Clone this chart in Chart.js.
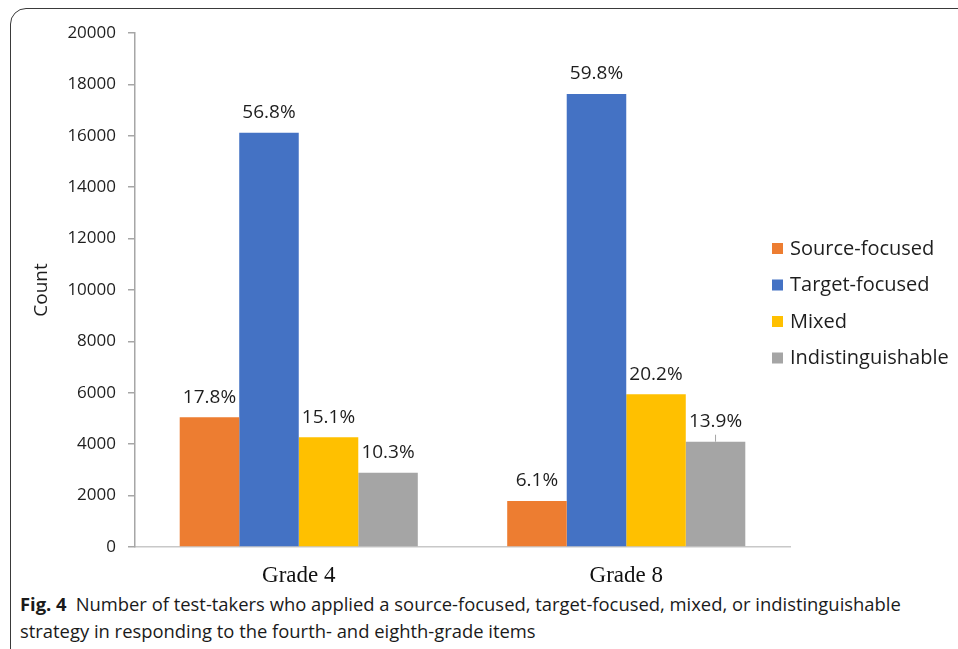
<!DOCTYPE html>
<html>
<head>
<meta charset="utf-8">
<script src="https://cdn.jsdelivr.net/npm/chart.js@4/dist/chart.umd.min.js"></script>
<style>
  html, body { margin: 0; padding: 0; background: #fff; width: 958px; height: 649px; overflow: hidden; }
  #frame { position: absolute; left: 10px; top: 8px; width: 980px; height: 700px;
           border: 1.5px solid #3a3a3a; border-top-left-radius: 16px; box-sizing: border-box; }
  #c { position: absolute; left: 0; top: 0; }
  #caption { position: absolute; left: 20px; top: 590px; width: 935px;
             font-family: "Open Sans", sans-serif; font-size: 18.4px; line-height: 27px; color: #1a1a1a; }
  #caption b { font-weight: 700; margin-right: 9px; }
</style>
</head>
<body>
<div id="frame"></div>
<canvas id="c" width="958" height="590"></canvas>
<div id="caption"><b>Fig. 4</b>Number of test-takers who applied a source-focused, target-focused, mixed, or indistinguishable<br>strategy in responding to the fourth- and eighth-grade items</div>
<script>
const categories = ["Grade 4", "Grade 8"];
const seriesNames = ["Source-focused", "Target-focused", "Mixed", "Indistinguishable"];
const sourceFocused = [5047, 1790];
const targetFocused = [16121, 17626];
const mixed = [4268, 5942];
const indistinguishable = [2891, 4097];
const sourceLabels = ["17.8%", "6.1%"];
const targetLabels = ["56.8%", "59.8%"];
const mixedLabels = ["15.1%", "20.2%"];
const indistLabels = ["10.3%", "13.9%"];
const yTicks = [0, 2000, 4000, 6000, 8000, 10000, 12000, 14000, 16000, 18000, 20000];
const yTickLabels = ["0", "2000", "4000", "6000", "8000", "10000", "12000", "14000", "16000", "18000", "20000"];
const colors = ["#ED7D31", "#4472C4", "#FFC000", "#A5A5A5"];

const seriesValues = [sourceFocused, targetFocused, mixed, indistinguishable];
const seriesLabels = [sourceLabels, targetLabels, mixedLabels, indistLabels];

const labelPlugin = {
  id: 'barLabels',
  afterDatasetsDraw(chart) {
    const ctx = chart.ctx;
    ctx.save();
    ctx.font = '19px "Open Sans"';
    ctx.fillStyle = '#1e1e1e';
    ctx.textAlign = 'center';
    ctx.textBaseline = 'middle';
    chart.data.datasets.forEach((ds, i) => {
      chart.getDatasetMeta(i).data.forEach((bar, j) => {
        ctx.fillText(seriesLabels[i][j], bar.x, bar.y - 20);
      });
    });
    // leader line for Grade 8 Indistinguishable label
    const b = chart.getDatasetMeta(3).data[1];
    ctx.strokeStyle = '#a6a6a6';
    ctx.lineWidth = 1;
    ctx.beginPath();
    ctx.moveTo(b.x, b.y);
    ctx.lineTo(b.x, b.y - 7);
    ctx.stroke();
    // legend
    ctx.font = '20px "Open Sans"';
    ctx.textAlign = 'left';
    const lx = 772, ly0 = 249, dy = 36.5;
    chart.data.datasets.forEach((ds, i) => {
      const y = ly0 + i * dy;
      ctx.fillStyle = ds.backgroundColor;
      ctx.fillRect(lx, y - 6, 11, 11);
      ctx.fillStyle = '#1e1e1e';
      ctx.fillText(ds.label, lx + 18, y);
    });
    ctx.restore();
  }
};

new Chart(document.getElementById('c'), {
  type: 'bar',
  data: {
    labels: categories,
    datasets: seriesNames.map((n, i) => ({
      label: n,
      data: seriesValues[i],
      backgroundColor: colors[i],
      borderWidth: 0,
      categoryPercentage: 0.727,
      barPercentage: 1.0
    }))
  },
  options: {
    responsive: false,
    animation: false,
    devicePixelRatio: 1,
    layout: { padding: { left: 10, right: 168, top: 33, bottom: 0 } },
    plugins: { legend: { display: false }, tooltip: { enabled: false } },
    scales: {
      x: {
        grid: { display: false },
        border: { display: true, color: '#c8c8c8', width: 1.5 },
        ticks: { color: '#111', font: { family: '"Liberation Serif", "Times New Roman", serif', size: 23 }, padding: 7 },
        afterFit(scale) { scale.height = 43; }
      },
      y: {
        min: 0, max: 20000,
        afterBuildTicks(scale) { scale.ticks = yTicks.map(v => ({ value: v })); },
        grid: { drawOnChartArea: false, drawTicks: true, tickLength: 7, color: '#a6a6a6', lineWidth: 1.5 },
        border: { display: true, color: '#a6a6a6', width: 1.5 },
        ticks: { color: '#1e1e1e', font: { family: '"Open Sans", sans-serif', size: 17 }, padding: 12,
                 callback: (v, i) => yTickLabels[i] },
        title: { display: true, text: 'Count', color: '#1e1e1e', font: { family: '"Open Sans", sans-serif', size: 19 }, padding: { top: 20, bottom: 0 } },
        afterFit(scale) { scale.width = 125; }
      }
    }
  },
  plugins: [labelPlugin]
});
</script>
</body>
</html>
